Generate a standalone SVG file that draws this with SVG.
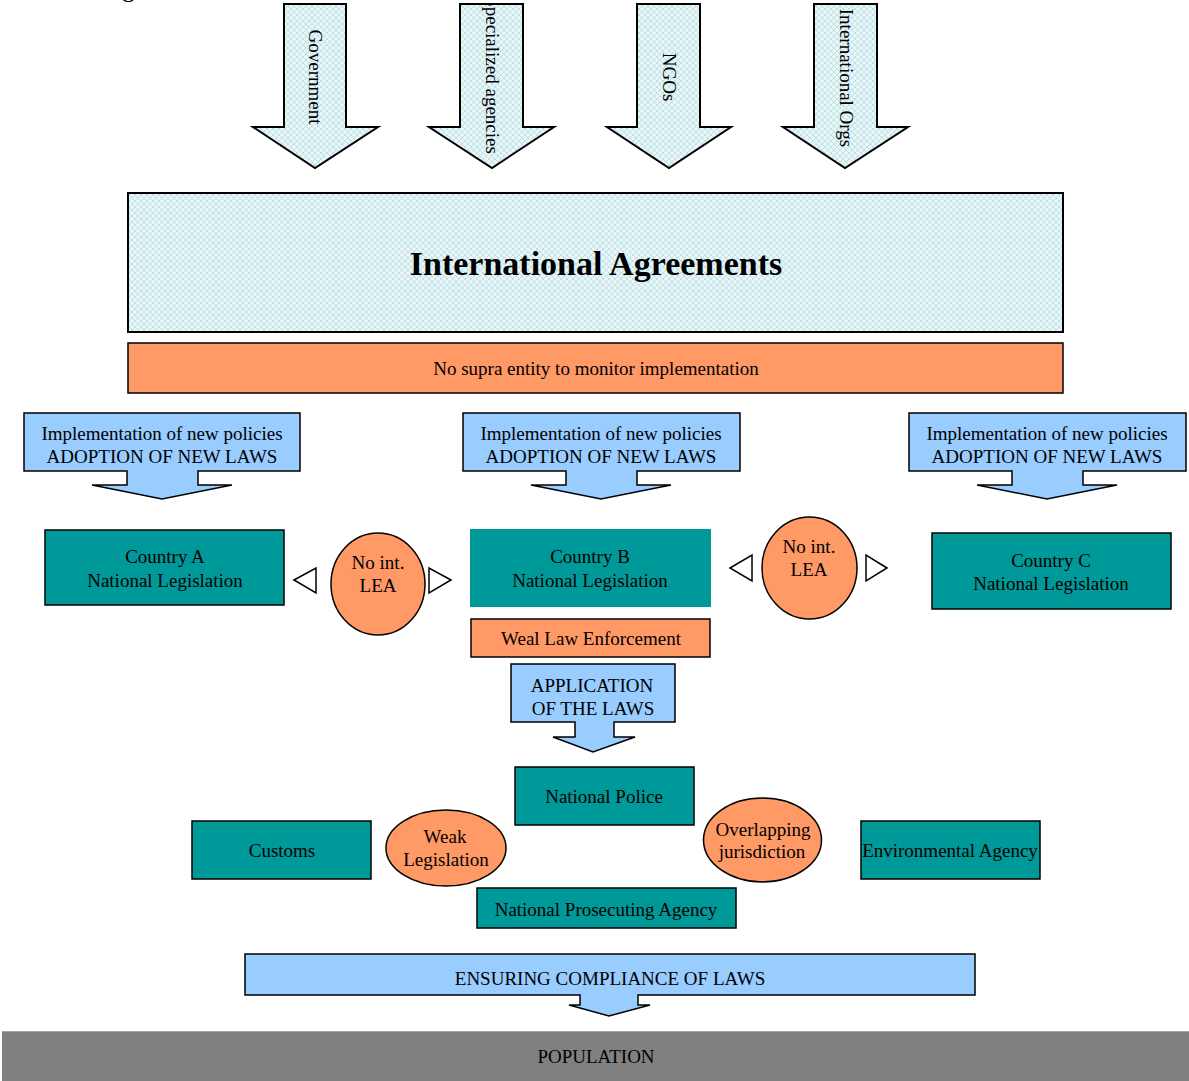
<svg xmlns="http://www.w3.org/2000/svg" width="1189" height="1081" viewBox="0 0 1189 1081">
<style>
text{font-family:"Liberation Serif","Times New Roman",serif;font-size:19px;fill:#000;text-anchor:middle}
.hatch{fill:url(#hatch);stroke:#000;stroke-width:2}
.blue{fill:#99ccff;stroke:#000;stroke-width:1.5}
.teal{fill:#009999;stroke:#000;stroke-width:1.5}
.orange{fill:#ff9966;stroke:#000;stroke-width:1.5}
.tri{fill:#fff;stroke:#000;stroke-width:1.5}
</style>
<defs>
<pattern id="hatch" width="6" height="6" patternUnits="userSpaceOnUse">
<rect width="6" height="6" fill="#e8f6f7"/>
<path d="M0,0 L6,6 M6,0 L0,6" stroke="#bfe2e6" stroke-width="1"/>
</pattern>
<clipPath id="c1"><path d="M284,4 H346 V127 H378 L315,168 L253,127 H284 Z"/></clipPath>
<clipPath id="c2"><path d="M460,4 H523 V127 H554 L492,168 L429,127 H460 Z"/></clipPath>
<clipPath id="c3"><path d="M637,4 H700 V127 H731 L669,168 L607,127 H637 Z"/></clipPath>
<clipPath id="c4"><path d="M814,4 H877 V127 H908 L845,168 L783,127 H814 Z"/></clipPath>
</defs>
<rect width="1189" height="1081" fill="#fff"/>
<text x="122" y="-3" style="font-size:26px;text-anchor:start">g</text>

<g id="arrow-government">
<path class="hatch" d="M284,4 H346 V127 H378 L315,168 L253,127 H284 Z"/>
<g clip-path="url(#c1)"><text transform="translate(315,77) rotate(90)" y="6">Government</text></g>
</g>
<g id="arrow-specialized">
<path class="hatch" d="M460,4 H523 V127 H554 L492,168 L429,127 H460 Z"/>
<g clip-path="url(#c2)"><text transform="translate(491.5,75) rotate(90)" y="6">Specialized agencies</text></g>
</g>
<g id="arrow-ngos">
<path class="hatch" d="M637,4 H700 V127 H731 L669,168 L607,127 H637 Z"/>
<g clip-path="url(#c3)"><text transform="translate(668.5,77) rotate(90)" y="6">NGOs</text></g>
</g>
<g id="arrow-intorgs">
<path class="hatch" d="M814,4 H877 V127 H908 L845,168 L783,127 H814 Z"/>
<g clip-path="url(#c4)"><text transform="translate(845.5,78) rotate(90)" y="6">International Orgs</text></g>
</g>

<g id="international-agreements">
<rect class="hatch" x="128" y="193" width="935" height="139"/>
<text x="596" y="275" style="font-size:34px;font-weight:bold">International Agreements</text>
</g>
<g id="no-supra">
<rect class="orange" x="128" y="343" width="935" height="50"/>
<text x="596" y="375">No supra entity to monitor implementation</text>
</g>

<g id="impl-a">
<path class="blue" d="M24,413 H300 V471 H198 V485 H232 L162,499 L92,485 H127 V471 H24 Z"/>
<text x="162" y="440">Implementation of new policies</text>
<text x="162" y="463">ADOPTION OF NEW LAWS</text>
</g>
<g id="impl-b">
<path class="blue" d="M463,413 H740 V471 H637 V485 H671 L601,499 L531,485 H566 V471 H463 Z"/>
<text x="601" y="440">Implementation of new policies</text>
<text x="601" y="463">ADOPTION OF NEW LAWS</text>
</g>
<g id="impl-c">
<path class="blue" d="M909,413 H1186 V471 H1083 V485 H1117 L1047,499 L977,485 H1012 V471 H909 Z"/>
<text x="1047" y="440">Implementation of new policies</text>
<text x="1047" y="463">ADOPTION OF NEW LAWS</text>
</g>

<g id="country-a">
<rect class="teal" x="45" y="530" width="239" height="75"/>
<text x="165" y="563">Country A</text>
<text x="165" y="587">National Legislation</text>
</g>
<g id="country-b">
<rect x="470" y="529" width="241" height="78" fill="#009999"/>
<text x="590" y="563">Country B</text>
<text x="590" y="587">National Legislation</text>
</g>
<g id="country-c">
<rect class="teal" x="932" y="533" width="239" height="76"/>
<text x="1051" y="567">Country C</text>
<text x="1051" y="590">National Legislation</text>
</g>

<g id="lea-1">
<ellipse class="orange" cx="378" cy="584" rx="47" ry="51"/>
<text x="378" y="569">No int.</text>
<text x="378" y="592">LEA</text>
</g>
<g id="lea-2">
<ellipse class="orange" cx="809.5" cy="568" rx="47.5" ry="51"/>
<text x="809" y="553">No int.</text>
<text x="809" y="576">LEA</text>
</g>

<g id="weak-enforcement">
<rect class="orange" x="471" y="619" width="239" height="38"/>
<text x="591" y="645">Weal Law Enforcement</text>
</g>
<g id="application">
<path class="blue" d="M511,664 H675 V722 H614 V737 H635 L593,752 L553,737 H575 V722 H511 Z"/>
<text x="592" y="692">APPLICATION</text>
<text x="593" y="715">OF THE LAWS</text>
</g>

<g id="national-police">
<rect class="teal" x="515" y="767" width="179" height="58"/>
<text x="604" y="803">National Police</text>
</g>
<g id="customs">
<rect class="teal" x="192" y="821" width="179" height="58"/>
<text x="282" y="857">Customs</text>
</g>
<g id="weak-legislation">
<ellipse class="orange" cx="446" cy="848" rx="60" ry="38"/>
<text x="445" y="843">Weak</text>
<text x="446" y="866">Legislation</text>
</g>
<g id="overlapping">
<ellipse class="orange" cx="762.5" cy="840" rx="59" ry="42"/>
<text x="763" y="836">Overlapping</text>
<text x="762" y="858">jurisdiction</text>
</g>
<g id="environmental-agency">
<rect class="teal" x="861" y="821" width="179" height="58"/>
<text x="950" y="857">Environmental Agency</text>
</g>
<g id="prosecuting">
<rect class="teal" x="477" y="888" width="259" height="40"/>
<text x="606" y="916">National Prosecuting Agency</text>
</g>

<g id="ensuring">
<path class="blue" d="M245,954 H975 V995 H638 V1005 H650 L609,1016 L569,1005 H580 V995 H245 Z"/>
<text x="610" y="985">ENSURING COMPLIANCE OF LAWS</text>
</g>
<g id="population">
<rect x="2" y="1031" width="1187" height="50" fill="#808080"/>
<line x1="2" y1="1031.5" x2="1189" y2="1031.5" stroke="#a6a6a6" stroke-width="1"/>
<text x="596" y="1063">POPULATION</text>
</g>

<g id="connectors">
<path class="tri" d="M294,580 L316,568 V593 Z"/>
<path class="tri" d="M451,580 L429,568 V593 Z"/>
<path class="tri" d="M730,568 L752,555 V581 Z"/>
<path class="tri" d="M887,568 L866,555 V581 Z"/>
</g>
</svg>
